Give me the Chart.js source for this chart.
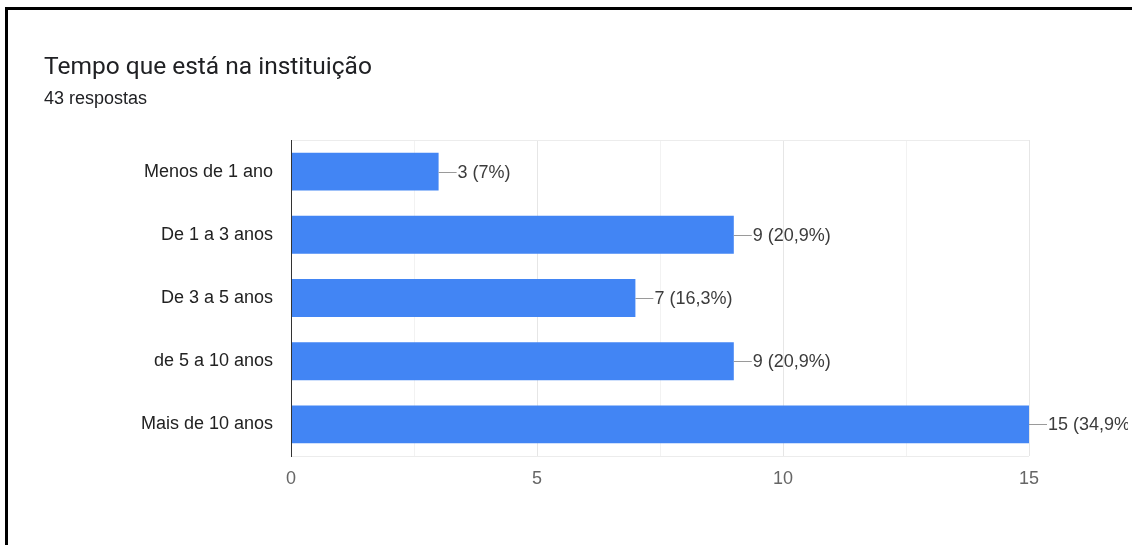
<!DOCTYPE html>
<html>
<head>
<meta charset="utf-8">
<script src="https://cdn.jsdelivr.net/npm/chart.js@4.4.1/dist/chart.umd.min.js"></script>
<style>
  html, body { margin: 0; padding: 0; background: #fff; }
  #wrap { position: relative; width: 1132px; height: 545px; overflow: hidden; }
  #frame { position: absolute; left: 5px; top: 7px; right: -10px; bottom: -10px;
           border-top: 3px solid #000; border-left: 3px solid #000; pointer-events: none; }
  canvas { position: absolute; left: 0; top: 0; }
</style>
</head>
<body>
<div id="wrap">
  <canvas id="c" width="1132" height="545"></canvas>
  <div id="frame"></div>
</div>
<script>
// Survey question and answer counts
const chartTitle = 'Tempo que está na instituição';
const chartSubtitle = '43 respostas';
const categories = ['Menos de 1 ano', 'De 1 a 3 anos', 'De 3 a 5 anos', 'de 5 a 10 anos', 'Mais de 10 anos'];
const counts = [3, 9, 7, 9, 15];
const percentages = ['7%', '20,9%', '16,3%', '20,9%', '34,9%'];
const xTickValues = [0, 5, 10, 15];

const LABEL_FONT = '18px "Liberation Sans", Arial, sans-serif';

// Header text, plot frame lines and value callouts
const decorations = {
  id: 'decorations',
  beforeDatasetsDraw(chart) {
    const { ctx, chartArea: a } = chart;
    ctx.save();
    ctx.strokeStyle = '#ececec';
    ctx.lineWidth = 1;
    ctx.beginPath();
    ctx.moveTo(a.left, a.top + 0.5); ctx.lineTo(a.right, a.top + 0.5);
    ctx.moveTo(a.left, a.bottom + 0.5); ctx.lineTo(a.right, a.bottom + 0.5);
    ctx.stroke();
    ctx.restore();
  },
  afterDatasetsDraw(chart) {
    const { ctx, chartArea: a } = chart;
    const meta = chart.getDatasetMeta(0);
    ctx.save();
    // zero axis line
    ctx.strokeStyle = '#333';
    ctx.lineWidth = 1;
    ctx.beginPath();
    ctx.moveTo(Math.round(a.left) + 0.5, a.top);
    ctx.lineTo(Math.round(a.left) + 0.5, a.bottom + 1);
    ctx.stroke();
    // value callouts, kept inside the card's content width
    ctx.save();
    ctx.beginPath();
    ctx.rect(0, 0, 1128, chart.height);
    ctx.clip();
    ctx.font = LABEL_FONT;
    ctx.textBaseline = 'middle';
    ctx.textAlign = 'left';
    meta.data.forEach((bar, i) => {
      const x = bar.x, y = Math.round(bar.y) + 0.5;
      ctx.strokeStyle = '#9a9a9a';
      ctx.beginPath();
      ctx.moveTo(x, y); ctx.lineTo(x + 18, y);
      ctx.stroke();
      ctx.fillStyle = '#3c3c3c';
      ctx.fillText(counts[i] + ' (' + percentages[i] + ')', x + 19, bar.y + 1);
    });
    ctx.restore();
    // header
    ctx.fillStyle = '#202124';
    ctx.textBaseline = 'alphabetic';
    ctx.font = '24.5px Roboto, Arial, sans-serif';
    ctx.fillText(chartTitle, 44, 74);
    ctx.font = '18px "Liberation Sans", Arial, sans-serif';
    ctx.fillText(chartSubtitle, 44, 104);
    ctx.restore();
  }
};

new Chart(document.getElementById('c'), {
  type: 'bar',
  data: {
    labels: categories,
    datasets: [{
      data: counts,
      backgroundColor: '#4285f4',
      borderWidth: 0,
      categoryPercentage: 1,
      barPercentage: 0.6
    }]
  },
  options: {
    indexAxis: 'y',
    responsive: false,
    animation: false,
    layout: { padding: { top: 140, right: 103, left: 0, bottom: 0 } },
    plugins: { legend: { display: false }, tooltip: { enabled: false } },
    scales: {
      x: {
        min: 0, max: 15,
        afterBuildTicks(scale) {
          const t = [];
          for (let v = 0; v <= 15; v += 2.5) t.push({ value: v });
          scale.ticks = t;
        },
        afterFit(scale) { scale.height = 89; },
        border: { display: false },
        grid: {
          drawTicks: false,
          color: ctx => (ctx.tick && ctx.tick.value % 5 === 0) ? '#e6e6e6' : '#f2f2f2'
        },
        ticks: {
          padding: 12,
          autoSkip: false,
          maxRotation: 0,
          color: '#666',
          font: { family: '"Liberation Sans", Arial, sans-serif', size: 18 },
          callback: v => xTickValues.includes(v) ? String(v) : ''
        }
      },
      y: {
        afterFit(scale) { scale.width = 291; },
        border: { display: false },
        grid: { display: false, drawTicks: false },
        ticks: {
          padding: 18,
          color: '#222',
          font: { family: '"Liberation Sans", Arial, sans-serif', size: 18 }
        }
      }
    }
  },
  plugins: [decorations]
});
</script>
</body>
</html>
